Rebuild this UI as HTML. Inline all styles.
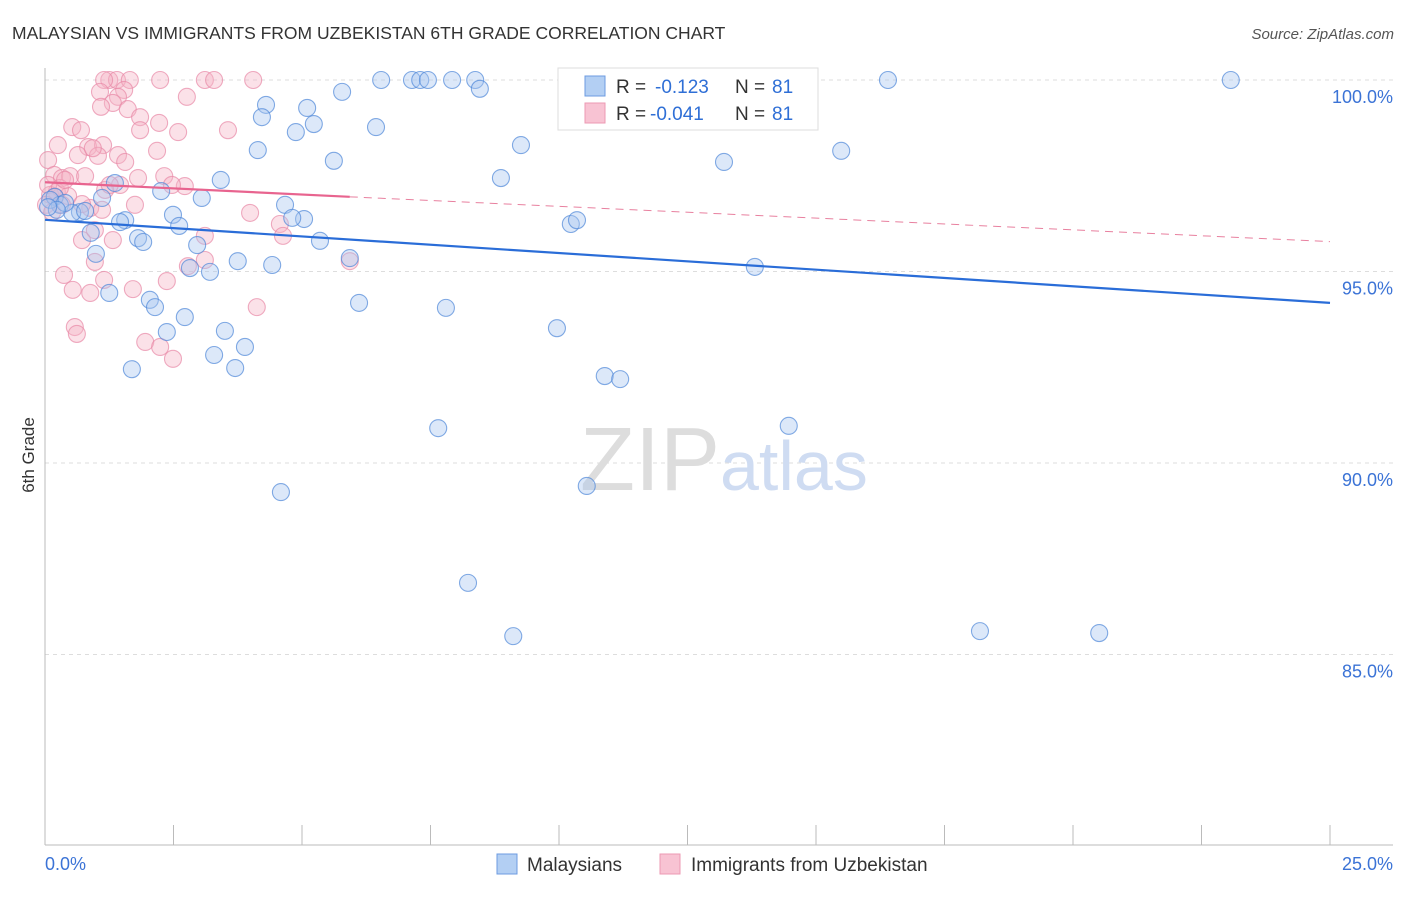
<!DOCTYPE html>
<html><head><meta charset="utf-8"><style>
body{margin:0;background:#fff;font-family:"Liberation Sans",sans-serif;}
svg text{font-family:"Liberation Sans",sans-serif;}
</style></head><body>
<svg id="chart" width="1406" height="892">
<text x="12" y="39" font-size="17.5" fill="#333">MALAYSIAN VS IMMIGRANTS FROM UZBEKISTAN 6TH GRADE CORRELATION CHART</text>
<text x="1394" y="39" font-size="15" fill="#555" font-style="italic" text-anchor="end">Source: ZipAtlas.com</text>
<text x="34" y="455" font-size="17" fill="#333" transform="rotate(-90 34 455)" text-anchor="middle">6th Grade</text>
<g id="grid"></g><g id="axes"></g>
<text x="720" y="490" font-size="90" fill="#ddd" text-anchor="end" font-family="Liberation Serif">ZIP</text>
<text x="720" y="490" font-size="70" fill="#cfdcf2">atlas</text>
<g id="pts"></g><g id="lines"></g>
<g>
<rect x="558" y="68" width="260" height="62" fill="#fff" stroke="#ddd"/>
<rect x="585" y="76" width="20" height="20" fill="#b3cff3" stroke="#6d9be0"/>
<rect x="585" y="103" width="20" height="20" fill="#f8c3d3" stroke="#ec9ab3"/>
<text x="616" y="93" font-size="19" fill="#333">R =</text>
<text x="655" y="93" font-size="19" fill="#2f6fd6">-0.123</text>
<text x="735" y="93" font-size="19" fill="#333">N =</text>
<text x="772" y="93" font-size="19" fill="#2f6fd6">81</text>
<text x="616" y="120" font-size="19" fill="#333">R =</text>
<text x="650" y="120" font-size="19" fill="#2f6fd6">-0.041</text>
<text x="735" y="120" font-size="19" fill="#333">N =</text>
<text x="772" y="120" font-size="19" fill="#2f6fd6">81</text>
</g>
<g>
<rect x="497" y="854" width="20" height="20" fill="#b3cff3" stroke="#6d9be0"/>
<text x="527" y="871" font-size="19" fill="#333">Malaysians</text>
<rect x="660" y="854" width="20" height="20" fill="#f8c3d3" stroke="#ec9ab3"/>
<text x="691" y="871" font-size="19" fill="#333">Immigrants from Uzbekistan</text>
</g>
</svg>
<script>
const blueX=[6.54,7.14,7.30,7.45,7.92,8.37,11.50,16.40,23.07,5.78,8.46,4.30,5.10,4.22,5.23,4.88,6.44,9.26,4.14,5.62,13.21,15.49,8.87,3.42,1.36,2.26,3.05,0.19,1.11,4.67,0.29,0.68,2.49,0.53,1.56,1.46,2.61,5.04,4.81,10.23,10.35,0.89,1.81,1.91,5.35,2.96,0.99,5.93,3.75,4.42,2.82,3.21,13.81,1.25,2.04,2.14,6.11,7.80,2.72,2.37,3.50,9.96,3.89,3.29,1.69,3.70,10.89,11.19,7.65,14.47,4.59,10.54,8.23,9.11,18.19,20.51,0.10,0.39,0.23,0.06,0.78];
const blueY=[100,100,100,100,100,100,100,100,100,99.69,99.77,99.35,99.27,99.03,98.85,98.64,98.77,98.30,98.17,97.89,97.86,98.15,97.44,97.39,97.31,97.10,96.92,96.95,96.92,96.74,96.74,96.55,96.48,96.53,96.34,96.29,96.19,96.37,96.40,96.24,96.34,96.01,95.87,95.77,95.80,95.69,95.46,95.35,95.27,95.17,95.09,94.99,95.12,94.44,94.26,94.07,94.18,94.05,93.81,93.42,93.45,93.52,93.03,92.82,92.45,92.48,92.27,92.19,90.91,90.97,89.24,89.40,86.87,85.48,85.61,85.56,96.87,96.79,96.61,96.68,96.58];
const pinkX=[1.25,1.40,1.65,2.24,3.11,3.29,4.05,1.15,1.54,1.07,1.42,1.32,1.61,2.76,1.85,1.09,2.22,0.53,0.70,2.59,1.85,3.56,0.25,0.84,1.13,0.64,2.18,1.42,1.03,1.56,0.06,0.18,0.33,0.49,0.78,1.81,2.32,2.72,2.47,1.46,1.17,0.23,0.10,0.45,0.88,0.72,1.75,3.99,0.72,0.97,1.32,3.11,4.57,4.63,5.93,0.97,0.37,1.15,0.54,0.88,1.71,2.37,4.12,0.58,0.62,1.95,2.24,2.49,0.06,0.29,0.19,0.02,0.14,0.39,1.11,3.11,2.78,0.93,0.33,1.26];
const pinkY=[100,100,100,100,100,100,100,100,99.74,99.69,99.56,99.40,99.24,99.56,99.03,99.30,98.88,98.77,98.69,98.64,98.69,98.69,98.30,98.25,98.30,98.04,98.15,98.04,98.02,97.86,97.91,97.52,97.44,97.49,97.49,97.44,97.49,97.23,97.26,97.26,97.13,97.08,97.00,96.97,96.66,96.76,96.74,96.53,95.82,96.08,95.82,95.93,96.24,95.93,95.27,95.25,94.91,94.78,94.52,94.44,94.54,94.75,94.07,93.55,93.37,93.16,93.03,92.72,97.26,97.18,96.95,96.74,96.55,97.39,96.61,95.30,95.14,98.22,96.74,97.26];
const blueTrendX=[0,25];
const blueTrendY=[96.35,94.18];
const pinkTrendX=[0,5.93,25];
const pinkTrendY=[97.33,96.95,95.78];
const yTicks=[100,95,90,85];
const yTickLabels=["100.0%","95.0%","90.0%","85.0%"];
const xTicks=[0,2.5,5,7.5,10,12.5,15,17.5,20,22.5,25];
const NS="http://www.w3.org/2000/svg";
const sx=v=>45+v*51.4, sy=v=>80+(100-v)*38.3;
function mk(tag,attrs,parent){const e=document.createElementNS(NS,tag);for(const k in attrs)e.setAttribute(k,attrs[k]);parent.appendChild(e);return e;}
const grid=document.getElementById('grid'),axes=document.getElementById('axes'),pts=document.getElementById('pts'),lines=document.getElementById('lines');
yTicks.forEach((t,i)=>{
 const l=mk('line',{x1:45,x2:1393,y1:sy(t),y2:sy(t),stroke:'#ddd','stroke-dasharray':'4,4'},grid);
 
 
 const tx=mk('text',{x:1393,y:sy(t)+23,'font-size':18,fill:'#3b73d6','text-anchor':'end'},grid);
 tx.textContent=yTickLabels[i];
 
 
});
const ya=mk('line',{x1:45,x2:45,y1:68,y2:845,stroke:'#bbb'},axes);


const xa=mk('line',{x1:45,x2:1393,y1:845,y2:845,stroke:'#bbb'},axes);


xTicks.forEach(t=>{const k=mk('line',{x1:sx(t),x2:sx(t),y1:825,y2:845,stroke:'#bbb'},axes);
 
 });
const x0=mk('text',{x:45,y:870,'font-size':18,fill:'#3b73d6'},axes);x0.textContent=xTicks[0].toFixed(1)+'%';


const x1=mk('text',{x:1393,y:870,'font-size':18,fill:'#3b73d6','text-anchor':'end'},axes);x1.textContent=xTicks[xTicks.length-1].toFixed(1)+'%';


function dots(X,Y,fill,stroke,name){X.forEach((x,i)=>{const c=mk('circle',{cx:sx(x),cy:sy(Y[i]),r:8.5,fill:fill,'fill-opacity':0.4,stroke:stroke,'stroke-opacity':0.7,'stroke-width':1.1},pts);
 
 });}
dots(pinkX,pinkY,'#f5b3c6','#e889a6','uzbekistan-point');
dots(blueX,blueY,'#a8c6ef','#4f87d8','malaysian-point');
const bl=mk('line',{x1:sx(blueTrendX[0]),y1:sy(blueTrendY[0]),x2:sx(blueTrendX[1]),y2:sy(blueTrendY[1]),stroke:'#2a6dd8','stroke-width':2.2},lines);


const pl=mk('line',{x1:sx(pinkTrendX[0]),y1:sy(pinkTrendY[0]),x2:sx(pinkTrendX[1]),y2:sy(pinkTrendY[1]),stroke:'#e8648f','stroke-width':2.2},lines);


const pd=mk('line',{x1:sx(pinkTrendX[1]),y1:sy(pinkTrendY[1]),x2:sx(pinkTrendX[2]),y2:sy(pinkTrendY[2]),stroke:'#e8809f','stroke-width':1,'stroke-dasharray':'8,6'},lines);


</script>
</body></html>
